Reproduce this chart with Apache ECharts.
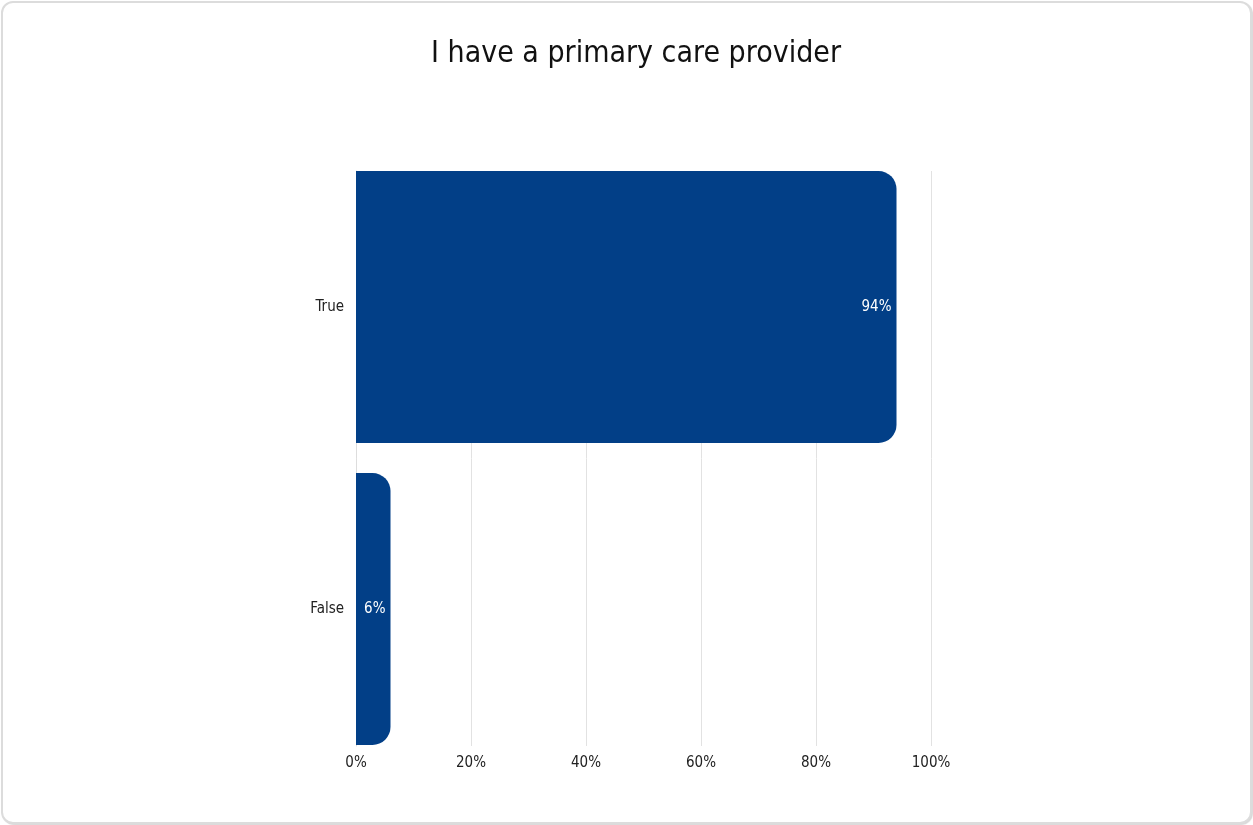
<!DOCTYPE html>
<html>
<head>
<meta charset="utf-8">
<script src="https://cdn.jsdelivr.net/npm/echarts@6/dist/echarts.min.js"></script>
<style>
  html, body { margin: 0; padding: 0; background: #ffffff; }
  #frame {
    position: absolute; left: 1px; top: 1px; width: 1247px; height: 819px;
    border: 2px solid #dcdcdc; border-radius: 12px; background: #ffffff;
    box-shadow: 1px 1px 1px #d8d8d8;
  }
  #chart { width: 1247px; height: 819px; }
</style>
</head>
<body>
<div id="frame"><div id="chart"></div></div>
<script>
// Survey answer categories (top to bottom) and share of respondents, in percent
const categories = ['True', 'False'];
const shares = [94, 6];
const tickValues = [0, 20, 40, 60, 80, 100];

const FONT = '"Liberation Sans Narrow", "DejaVu Sans Condensed", "Open Sans", sans-serif';
const TEXT = '#222222';

const chart = echarts.init(document.getElementById('chart'));
chart.setOption({
  animation: false,
  title: {
    text: 'I have a primary care provider',
    left: 423,
    top: 31,
    textStyle: { fontFamily: FONT, fontSize: 30, fontWeight: 'normal', color: '#111111' }
  },
  // grid 0: bars and category labels (bands reach past the gridlines so
  // the outer bars sit flush with the plot edges)
  // grid 1: value gridlines, tick labels and the left axis line
  grid: [
    { left: 353, right: 319, top: 153, bottom: 62 },
    { left: 353, right: 319, top: 168, bottom: 76 }
  ],
  xAxis: [
    {
      type: 'value', gridIndex: 0, min: 0, max: 100, interval: 20,
      axisLine: { show: false }, axisTick: { show: false },
      splitLine: { show: false }, axisLabel: { show: false }
    },
    {
      type: 'value', gridIndex: 1, min: 0, max: 100, interval: 20,
      axisLine: { show: false }, axisTick: { show: false },
      splitLine: { show: true, lineStyle: { color: '#e2e2e2', width: 1 } },
      axisLabel: {
        margin: 10,
        fontFamily: FONT, fontSize: 15, color: TEXT,
        formatter: v => (tickValues.includes(v) ? v + '%' : '')
      }
    }
  ],
  yAxis: [
    {
      type: 'category', gridIndex: 0, data: categories, inverse: true,
      axisLine: { show: false }, axisTick: { show: false },
      axisLabel: { margin: 12, fontFamily: FONT, fontSize: 15, color: TEXT }
    },
    {
      type: 'category', gridIndex: 1, data: categories, inverse: true,
      axisLine: { show: true, lineStyle: { color: '#dddddd', width: 1 } },
      axisTick: { show: false }, axisLabel: { show: false }
    }
  ],
  series: [{
    type: 'bar',
    xAxisIndex: 0,
    yAxisIndex: 0,
    data: shares,
    barCategoryGap: '10%',
    itemStyle: { color: '#023f87', borderRadius: [0, 18, 18, 0] },
    label: {
      show: true,
      position: 'insideRight',
      distance: 5,
      formatter: p => p.value + '%',
      fontFamily: FONT, fontSize: 15, color: '#ffffff'
    }
  }]
});
</script>
</body>
</html>
